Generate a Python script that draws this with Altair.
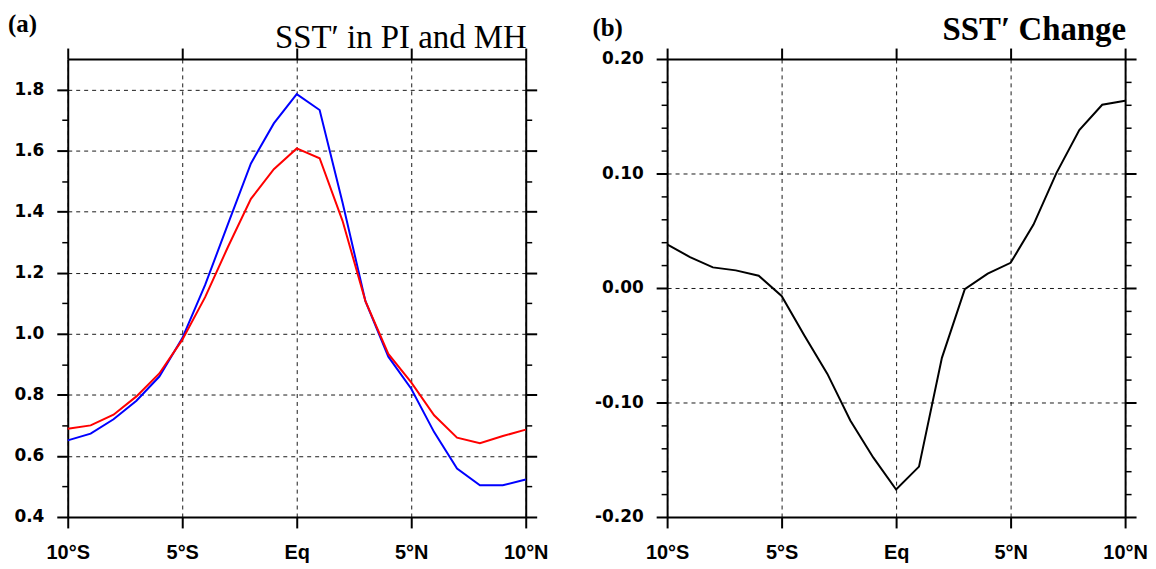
import altair as alt
import pandas as pd

# ---------------- data ----------------
lat = list(range(-10, 11))
pi_sst = [0.651, 0.673, 0.720, 0.781, 0.860, 0.985, 1.160, 1.360, 1.558, 1.689, 1.785,
          1.733, 1.430, 1.107, 0.925, 0.820, 0.678, 0.559, 0.504, 0.504, 0.523]
mh_sst = [0.689, 0.700, 0.735, 0.795, 0.870, 0.980, 1.120, 1.285, 1.442, 1.539, 1.607,
          1.575, 1.370, 1.107, 0.934, 0.841, 0.733, 0.660, 0.642, 0.665, 0.686]
sst_change = [0.038, 0.027, 0.018, 0.0154, 0.0107, -0.007, -0.0417, -0.075, -0.1157, -0.148, -0.176,
              -0.156, -0.061, -0.001, 0.0125, 0.022, 0.0554, 0.1003, 0.138, 0.160, 0.1635]

x_tick_values = [-10, -5, 0, 5, 10]
x_tick_labels = ["10°S", "5°S", "Eq", "5°N", "10°N"]

ya_major = [0.4, 0.6, 0.8, 1.0, 1.2, 1.4, 1.6, 1.8]
ya_minor = [0.5, 0.7, 0.9, 1.1, 1.3, 1.5, 1.7]
ya_domain = [0.4, 1.9]

yb_major = [-0.2, -0.1, 0.0, 0.1, 0.2]
yb_minor = [-0.18, -0.16, -0.14, -0.12, -0.08, -0.06, -0.04, -0.02,
            0.02, 0.04, 0.06, 0.08, 0.12, 0.14, 0.16, 0.18]
yb_domain = [-0.2, 0.2]

panel_tags = ["(a)", "(b)"]
panel_titles = ["SST\u2032 in PI and MH", "SST\u2032  Change"]

df_a = pd.DataFrame({"lat": lat, "PI": pi_sst, "MH": mh_sst})
df_b = pd.DataFrame({"lat": lat, "change": sst_change})

W, H = 460, 460

x_label_expr = " : ".join(
    f"datum.value == {v} ? '{l}'" for v, l in zip(x_tick_values, x_tick_labels)
) + " : ''"


def common(**kw):
    base = dict(
        title=None,
        domainColor="black", domainWidth=2,
        tickColor="black",
        labelColor="black", labelFont="DejaVu Sans", labelFontWeight="bold",
        labelFontSize=17, labelFlush=False, labelOverlap=False,
    )
    base.update(kw)
    return alt.Axis(**base)


def x_bottom():
    return common(orient="bottom", values=x_tick_values, labelExpr=x_label_expr,
                  labelFont="Liberation Sans", labelFontSize=20,
                  tickSize=11, tickWidth=2, labelPadding=15,
                  grid=True, gridColor="black", gridDash=[4, 4], gridWidth=1, gridOpacity=0.9)


def x_top():
    return common(orient="top", values=x_tick_values, labels=False,
                  tickSize=11, tickWidth=2, grid=False)


def y_major(orient, values, fmt, labels):
    kw = dict(orient=orient, values=values, tickSize=11, tickWidth=2)
    if labels:
        kw.update(labelExpr=f"replace(format(datum.value, '{fmt}'), '\u2212', '-')",
                  labelPadding=13,
                  grid=True, gridColor="black", gridDash=[4, 4], gridWidth=1, gridOpacity=0.9)
    else:
        kw.update(labels=False, grid=False)
    return common(**kw)


def y_minor(orient, values):
    return common(orient=orient, values=values, labels=False, tickSize=6, tickWidth=1.5,
                  domain=False, grid=False)


def text_layer(txt, x, y, align, size, weight):
    return alt.Chart(pd.DataFrame({"t": [txt]})).mark_text(
        align=align, baseline="alphabetic", font="Liberation Serif",
        fontSize=size, fontWeight=weight, color="black"
    ).encode(text="t:N", x=alt.value(x), y=alt.value(y))


def make_panel(df, series, colors, y_dom, y_maj, y_min, fmt, tag, title, title_weight,
               tag_x, tag_y, title_y):
    xs = alt.Scale(domain=[-10, 10], nice=False, zero=False)
    ys = alt.Scale(domain=y_dom, nice=False, zero=False)
    layers = []
    for i, (col, colr) in enumerate(zip(series, colors)):
        if i == 0:
            xa, ya = x_bottom(), y_major("left", y_maj, fmt, True)
        else:
            xa, ya = x_top(), y_minor("left", y_min)
        layers.append(
            alt.Chart(df).mark_line(color=colr, strokeWidth=2).encode(
                x=alt.X("lat:Q", scale=xs, axis=xa),
                y=alt.Y(f"{col}:Q", scale=ys, axis=ya),
            )
        )
    if len(series) == 1:
        layers.append(
            alt.Chart(df).mark_line(strokeOpacity=0).encode(
                x=alt.X("lat:Q", scale=xs, axis=x_top()),
                y=alt.Y(f"{series[0]}:Q", scale=ys, axis=y_minor("left", y_min)),
            )
        )
    layers.append(
        alt.Chart(df).mark_line(strokeOpacity=0).encode(
            x=alt.X("lat:Q", scale=xs, axis=None),
            y=alt.Y(f"{series[0]}:Q", scale=ys, axis=y_major("right", y_maj, fmt, False)),
        )
    )
    layers.append(
        alt.Chart(df).mark_line(strokeOpacity=0).encode(
            x=alt.X("lat:Q", scale=xs, axis=None),
            y=alt.Y(f"{series[0]}:Q", scale=ys, axis=y_minor("right", y_min)),
        )
    )
    layers.append(text_layer(tag, tag_x, tag_y, "left", 25, "bold"))
    layers.append(text_layer(title, W + 1, title_y, "right", 33, title_weight))
    return alt.layer(*layers).resolve_axis(x="independent", y="independent").properties(
        width=W, height=H
    )


panel_a = make_panel(df_a, ["PI", "MH"], ["#0000ff", "#ff0000"], ya_domain, ya_major, ya_minor,
                     ".1f", panel_tags[0], panel_titles[0], "normal", -60, -27, -11)
panel_b = make_panel(df_b, ["change"], ["#000000"], yb_domain, yb_major, yb_minor,
                     ".2f", panel_tags[1], panel_titles[1], "bold", -75, -23, -19)

chart = alt.hconcat(panel_a, panel_b, spacing=44).properties(
    padding={"left": 0, "top": 3, "right": 0, "bottom": 0}
).configure_view(stroke=None)

chart.save("out.html", embed_options={"renderer": "svg", "actions": False})
